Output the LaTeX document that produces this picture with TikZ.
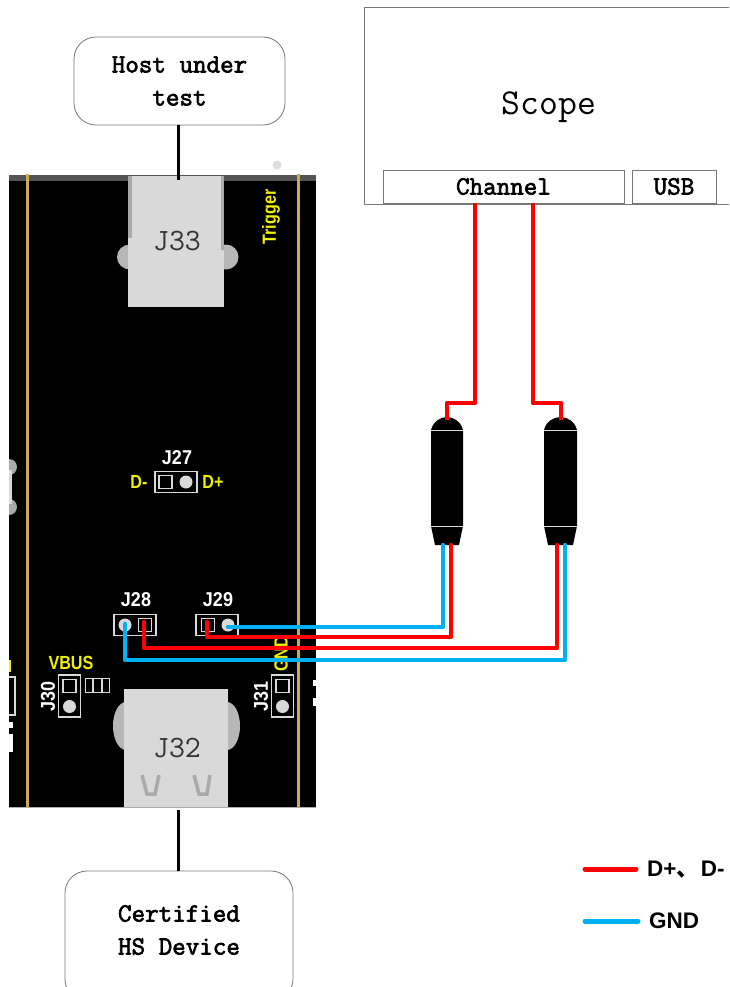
\documentclass[tikz,border=0pt]{standalone}
\usepackage{fontspec}
\setmainfont{Liberation Mono}
\newfontfamily\legendfont{Liberation Sans}
\newfontfamily\cjkfont{Noto Sans CJK SC}
\newfontfamily\silkfont{Liberation Sans}
\newfontfamily\monobold[FakeBold=2.5]{Latin Modern Mono}
\newfontfamily\monoreg{Latin Modern Mono}
\definecolor{wirered}{RGB}{255,0,0}
\definecolor{wireblue}{RGB}{0,176,240}
\definecolor{pad}{RGB}{217,217,217}
\definecolor{padedge}{RGB}{170,170,170}
\definecolor{rail}{RGB}{205,170,85}
\definecolor{silk}{RGB}{240,240,0}
\definecolor{edgegray}{RGB}{120,120,120}
\tikzset{
  x=1pt,y=-1pt,
  every node/.style={inner sep=0pt,outer sep=0pt},
  roundbox/.style={draw=edgegray,line width=0.8pt,rounded corners=22pt,fill=white,align=center,font=\monobold\fontsize{26.3}{33}\selectfont},
  plainbox/.style={draw=edgegray,line width=0.8pt,fill=white,font=\monobold\fontsize{26.3}{26}\selectfont},
  conn/.style={fill=pad},
  connlabel/.style={font=\monoreg\fontsize{31}{32}\selectfont,text=black!80},
  ear/.style={fill=padedge!85!white},
  redwire/.style={draw=wirered,line width=4.5pt,line join=round,line cap=round},
  bluewire/.style={draw=wireblue,line width=4.5pt,line join=round,line cap=round},
  link/.style={draw=black,line width=3pt},
  header/.style={draw=pad,line width=1.6pt,fill=black},
  squarepad/.style={draw=pad,line width=1.2pt,fill=black},
  roundpad/.style={fill=pad},
  silkwhite/.style={text=white,xscale=.9,transform shape,font=\silkfont\bfseries\fontsize{20}{20}\selectfont},
  silkyellow/.style={text=silk,xscale=.85,transform shape,font=\silkfont\bfseries\fontsize{19}{20}\selectfont},
  probe/.style={fill=black},
  probeline/.style={draw=pad,line width=1pt},
  legendtext/.style={anchor=west,font=\legendfont\bfseries\fontsize{22.5}{24}\selectfont},
}
\begin{document}
\begin{tikzpicture}
\useasboundingbox (0,0) rectangle (729,987);
\clip (0,0) rectangle (729,987);
% Scope
\node[plainbox,minimum width=400pt,minimum height=197pt] (scope) at (564,105.5) {};
\node[font=\monoreg\fontsize{36.6}{38}\selectfont] (scopetext) at (549,107) {Scope};
\node[plainbox,minimum width=241pt,minimum height=33pt] (channel) at (503.5,186.5) {Channel};
\node[plainbox,minimum width=84pt,minimum height=33pt] (usb) at (674,186.5) {USB};
% Board
\node[fill=black,minimum width=307pt,minimum height=631pt] (board) at (162.5,491.5) {};
\fill[edgegray!70!black] (9,175) rectangle (316,181);
\draw[rail,line width=3pt] (27,174) -- (27,807);
\draw[rail,line width=3pt] (298,174) -- (298,807);
\fill[pad!90!white] (277,165) circle (4.5);
\draw[edgegray!60,line width=0.8pt] (9,807) -- (316,807);
% J33
\fill[ear] (130,257) ellipse (13 and 12.5);
\fill[ear] (226,257) ellipse (12.5 and 12.5);
\fill[padedge] (128,176) rectangle (224,240);
\node[conn,minimum width=96pt,minimum height=131pt] (j33) at (176,241.5) {};
\fill[padedge] (128,176) rectangle (132,238);
\fill[padedge] (221,176) rectangle (224,250);
\node[connlabel] at (177,241) {J33};
% J32
\fill[ear] (126,726) ellipse (13 and 24);
\fill[ear] (227,726) ellipse (13 and 24);
\node[conn,minimum width=104pt,minimum height=118pt] (j32) at (176,748) {};
\node[connlabel] at (177,748) {J32};
\draw[padedge,line width=3.5pt] (142,775) -- (147,794) -- (155,794) -- (159,775);
\draw[padedge,line width=3.5pt] (194,775) -- (199,794) -- (207,794) -- (210,775);
% Trigger
\node[rotate=90,silkyellow] at (271,217) {Trigger};
% left-edge fragment
\fill[padedge] (9,467) circle (8);
\fill[padedge] (9,507) circle (8);
\fill[white] (0,455) rectangle (9,520);
\fill[pad] (9,470) rectangle (12,504);
% J27
\node[header,minimum width=42pt,minimum height=21pt] (j27) at (176,482) {};
\node[squarepad,minimum size=13pt] at (165.5,482) {};
\fill[roundpad] (186,482) circle (6.5);
\node[silkwhite] at (177,458) {J27};
\node[silkyellow] at (139,482) {D-};
\node[silkyellow] at (213,482) {D+};
% J28
\node[header,minimum width=42pt,minimum height=21pt] (j28) at (135,625) {};
\node[squarepad,minimum size=13pt] at (145,625) {};
\fill[roundpad] (125,625) circle (6.5);
\node[silkwhite] at (136,600) {J28};
% J29
\node[header,minimum width=42pt,minimum height=21pt] (j29) at (217,625) {};
\node[squarepad,minimum size=13pt] at (208,625) {};
\fill[roundpad] (228,625) circle (6.5);
\node[silkwhite] at (218,600) {J29};
% J30
\node[header,minimum width=22pt,minimum height=42pt] (j30) at (69.5,696) {};
\node[squarepad,minimum size=13pt] at (69.5,686) {};
\fill[roundpad] (69.5,706.5) circle (6.5);
\node[rotate=90,silkwhite] at (48,696) {J30};
\node[silkyellow] at (71,663) {VBUS};
\node[header,minimum width=24pt,minimum height=14pt] (jp) at (97.5,685.5) {};
\draw[pad,line width=1.5pt] (93,679) -- (93,692) (102,679) -- (102,692);
% J31
\node[header,minimum width=22pt,minimum height=42pt] (j31) at (282.5,696) {};
\node[squarepad,minimum size=13pt] at (282.5,686) {};
\fill[roundpad] (282.5,706.5) circle (6.5);
\node[rotate=90,silkwhite] at (261,696) {J31};
\node[rotate=90,silkyellow] at (281,654) {GND};
% edge fragments
\fill[pad] (9,676) rectangle (15.5,716);
\fill[black] (9,678) rectangle (13.5,714);
\fill[silk] (9,660) rectangle (11,672);
\fill[white] (9,722) rectangle (13,728);
\fill[white] (9,734) rectangle (13,752);
\fill[white] (313,680) rectangle (316,686);
\fill[white] (313,698) rectangle (316,706);
% Host / device
\node[roundbox,minimum width=211pt,minimum height=88pt] (host) at (179.5,81) {Host under\\test};
\node[roundbox,minimum width=228pt,minimum height=130pt] (device) at (179,936) {};
\node[align=center,font=\monobold\fontsize{26.3}{33}\selectfont] (devicetext) at (179,930) {Certified\\HS Device};
\draw[link] ([xshift=-1.5pt]host.south) -- ([xshift=2pt,yshift=-4pt]j33.north);
\draw[link] ([xshift=2pt,yshift=-3pt]j32.south) -- ([xshift=-1pt]device.north);
% Probes
\foreach \nm/\l/\r/\tl/\tr in {a/431/463/435/459,b/544/577/548/573}{
  \path[probe,fill=black] (\l,430) .. controls (\l+2,422) and (\l+9,417) .. ({(\l+\r)/2},417)
     .. controls (\r-9,417) and (\r-2,422) .. (\r,430) -- (\r,526) -- (\tr,545) -- (\tl,545) -- (\l,526) -- cycle;
  \draw[probeline] (\l,430) -- (\r,430);
  \draw[probeline] (\l,526) -- (\r,526);
}
\coordinate (atop) at (447,420);
\coordinate (btop) at (561,420);
\coordinate (ab1) at (443,545);
\coordinate (ab2) at (451,545);
\coordinate (bb1) at (557,545);
\coordinate (bb2) at (565,545);
\coordinate (chl) at (475,203);
\coordinate (chr) at (533,203);
% Wires
\draw[redwire,line cap=butt] (chl) -- (475,403) -- (447,403) -- (atop);
\draw[redwire,line cap=butt] (chr) -- (533,403) -- (561,403) -- (btop);
\draw[bluewire] (228,627) -- (443,627) -- (ab1);
\draw[redwire] (207,622) -- (207,637) -- (451,637) -- (ab2);
\draw[redwire] (144,622) -- (144,648) -- (557,648) -- (bb1);
\draw[bluewire] (125,624) -- (125,660) -- (565,660) -- (bb2);
% Legend
\coordinate (la) at (585,869);
\coordinate (lb) at (636,869);
\coordinate (lc) at (585,921);
\coordinate (ld) at (638,921);
\draw[redwire,line width=5pt] (la) -- (lb);
\draw[bluewire,line width=5pt] (lc) -- (ld);
\node[legendtext] (l1) at (647,870) {D+{\cjkfont 、}\hspace{2pt}D-};
\node[legendtext] (l2) at (649,921) {GND};
\end{tikzpicture}
\end{document}
